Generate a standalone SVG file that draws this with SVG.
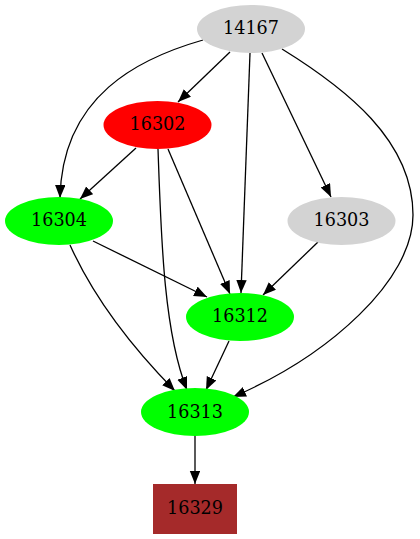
<svg xmlns="http://www.w3.org/2000/svg" width="420" height="539" viewBox="0 0 420 539">
<style>
.e{fill:none;stroke:#000;stroke-width:1.3;marker-end:url(#ah)}
.t{font-family:"DejaVu Serif",serif;font-size:17.6px;text-anchor:middle;fill:#000}
</style>
<defs>
<marker id="ah" markerUnits="userSpaceOnUse" markerWidth="14" markerHeight="11" refX="13" refY="5.2" orient="auto">
<path d="M0,0 L13,5.2 L0,10.4 z" fill="#000"/>
</marker>
</defs>
<rect width="420" height="539" fill="#fff"/>
<g id="connectors">
<path class="e" d="M203,40 C140,58 62,95 60,198"/>
<path class="e" d="M230,52 L178,102"/>
<path class="e" d="M250,53 L241,293"/>
<path class="e" d="M262,53 L331,197"/>
<path class="e" d="M282,49 C345,88 413,140 413,215 C413,280 330,355 233,397"/>
<path class="e" d="M136,148 L80,199"/>
<path class="e" d="M158,149 C161,230 163,330 187,390"/>
<path class="e" d="M168,149 L230,294"/>
<path class="e" d="M93,241 L207,297"/>
<path class="e" d="M70,245 C88,285 120,335 175,391"/>
<path class="e" d="M318,242 L263,295"/>
<path class="e" d="M229,341 L206,390"/>
<path class="e" d="M195,436 L195,484"/>
</g>
<g id="n14167"><ellipse cx="251" cy="29" rx="54" ry="24" fill="#d3d3d3"/><text class="t" x="251" y="33.5">14167</text></g>
<g id="n16302"><ellipse cx="157.5" cy="125" rx="54" ry="24" fill="#ff0000"/><text class="t" x="157.5" y="130">16302</text></g>
<g id="n16304"><ellipse cx="59" cy="221" rx="54" ry="24" fill="#00ff00"/><text class="t" x="59" y="226">16304</text></g>
<g id="n16303"><ellipse cx="341.5" cy="221" rx="54" ry="24" fill="#d3d3d3"/><text class="t" x="341.5" y="226">16303</text></g>
<g id="n16312"><ellipse cx="240" cy="317" rx="54" ry="24" fill="#00ff00"/><text class="t" x="240" y="322">16312</text></g>
<g id="n16313"><ellipse cx="195" cy="412" rx="54" ry="24" fill="#00ff00"/><text class="t" x="195" y="417.5">16313</text></g>
<g id="n16329"><rect x="153" y="484" width="84" height="50" fill="#a52a2a"/><text class="t" x="195" y="514">16329</text></g>
</svg>
